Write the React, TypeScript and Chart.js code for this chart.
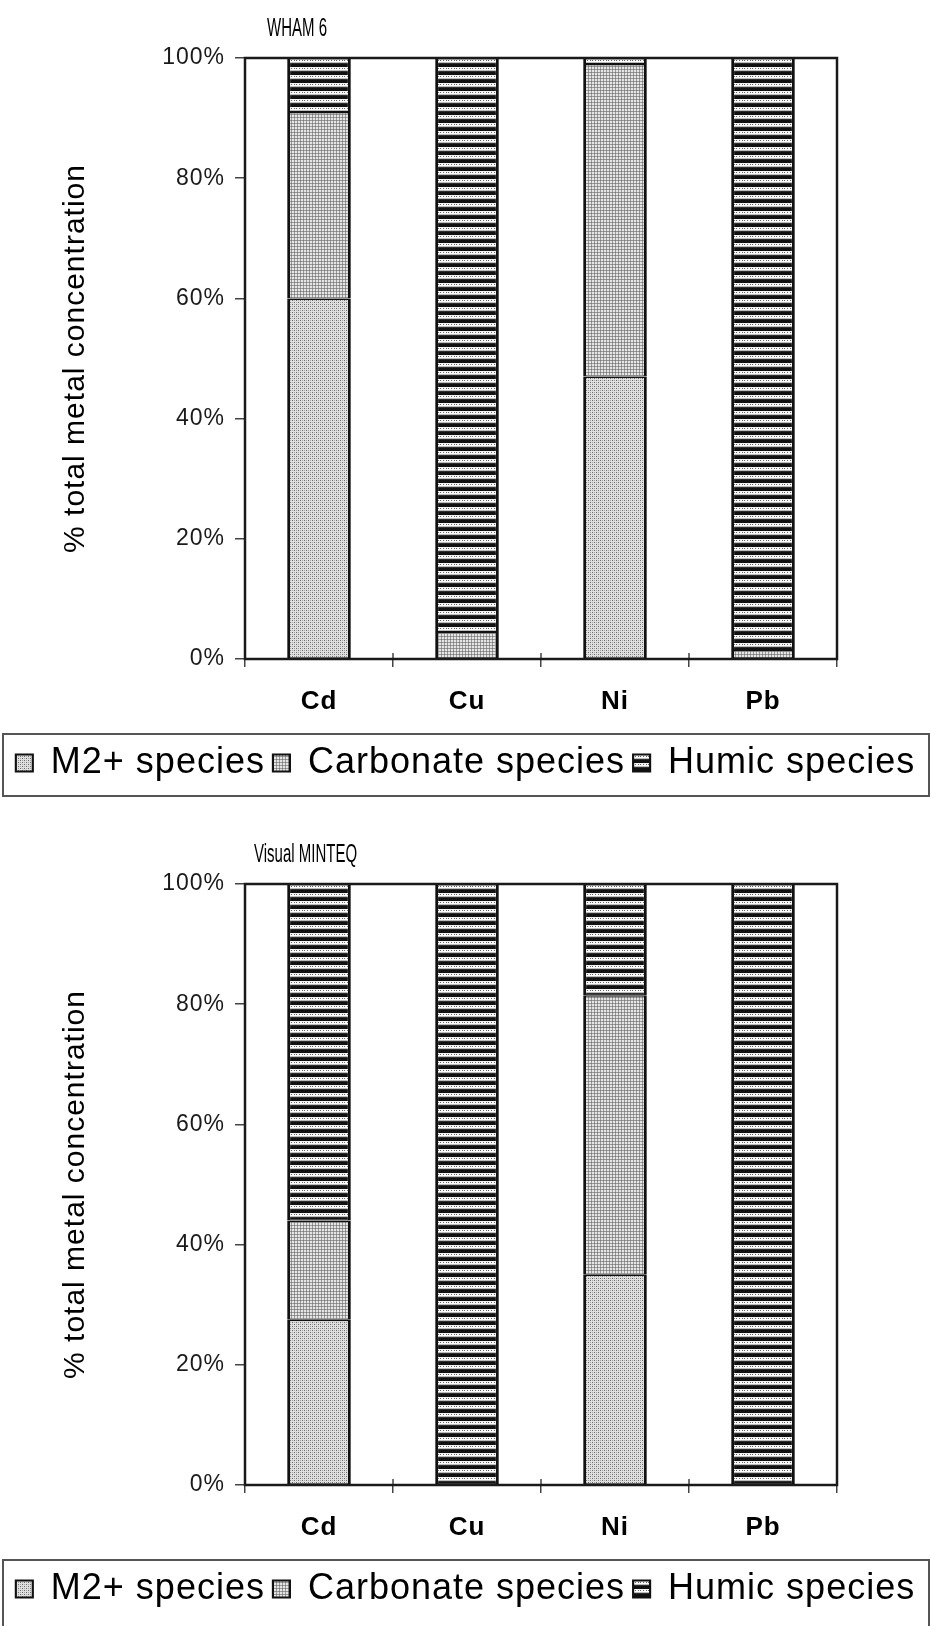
import React, { useEffect, useRef } from 'react';
import { Chart, registerables } from 'chart.js';

Chart.register(...registerables);

// ---------- data ----------
const categories = ['Cd', 'Cu', 'Ni', 'Pb'];
const seriesNames = ['M2+ species', 'Carbonate species', 'Humic species'];

const whamM2 = [60, 0, 47, 0];
const whamCarbonate = [31, 4.5, 52, 1.5];
const whamHumic = [9, 95.5, 1, 98.5];

const minteqM2 = [27.5, 0, 35, 0];
const minteqCarbonate = [16.5, 0, 46.5, 0];
const minteqHumic = [56, 100, 18.5, 100];

const yTicks = [0, 20, 40, 60, 80, 100];
const yAxisTitle = '% total metal concentration';
const panelTitles = ['WHAM 6', 'Visual MINTEQ'];

// ---------- styling helpers ----------
const FAMILY = "'Liberation Sans', Arial, Helvetica, sans-serif";

function makePattern(kind: string): CanvasPattern | string {
  const c = document.createElement('canvas');
  const ctx = c.getContext('2d');
  if (!ctx) return '#ccc';
  const px = (x: number, y: number, col: string) => {
    ctx.fillStyle = col;
    ctx.fillRect(x, y, 1, 1);
  };
  if (kind === 'm2') {
    c.width = 4; c.height = 4;
    ctx.fillStyle = '#e0e0e0';
    ctx.fillRect(0, 0, 4, 4);
    px(0, 0, '#6a6a6a');
    px(2, 2, '#6a6a6a');
    px(2, 0, '#a4a4a4');
    px(0, 2, '#a4a4a4');
  } else if (kind === 'carb') {
    c.width = 3; c.height = 3;
    ctx.fillStyle = '#e4e4e4';
    ctx.fillRect(0, 0, 3, 3);
    px(0, 0, '#747474');
    px(1, 0, '#9c9c9c');
    px(2, 0, '#9c9c9c');
    px(0, 1, '#9c9c9c');
    px(0, 2, '#9c9c9c');
  } else {
    c.width = 8; c.height = 8;
    const rows = ['#111111', '#111111', '#111111', '#f4f4f4', null, '#ffffff', '#bcbcbc', '#2e2e2e'];
    rows.forEach((col, y) => {
      if (col) {
        ctx.fillStyle = col;
        ctx.fillRect(0, y, 8, 1);
      } else {
        for (let x = 0; x < 8; x++) px(x, y, x % 3 === 0 ? '#6a6a6a' : '#f4f4f4');
      }
    });
  }
  return ctx.createPattern(c, 'repeat') || '#ccc';
}

// ---------- plugins ----------
const spacingPlugin = {
  id: 'letterSpacing',
  beforeUpdate(chart: any) {
    (chart.ctx as any).letterSpacing = '1px';
  },
  beforeDraw(chart: any) {
    (chart.ctx as any).letterSpacing = '1px';
  },
};

const framePlugin = {
  id: 'plotFrame',
  afterDraw(chart: any) {
    const { ctx, chartArea: a } = chart;
    const xs = chart.scales.x;
    ctx.save();
    // category-boundary tick marks crossing into the plot
    ctx.strokeStyle = '#444';
    ctx.lineWidth = 1.5;
    for (let i = 0; i <= categories.length; i++) {
      const x = xs.getPixelForValue(i - 0.5);
      ctx.beginPath();
      ctx.moveTo(x, a.bottom);
      ctx.lineTo(x, a.bottom - 6);
      ctx.stroke();
    }
    ctx.strokeStyle = '#1a1a1a';
    ctx.lineWidth = 2.5;
    ctx.strokeRect(a.left, a.top, a.right - a.left, a.bottom - a.top);
    ctx.restore();
  },
};

const panelTitlePlugin = {
  id: 'panelTitle',
  afterDraw(chart: any, _args: any, opts: any) {
    const { ctx, chartArea: a } = chart;
    ctx.save();
    (ctx as any).letterSpacing = '0px';
    ctx.font = "25px 'Liberation Sans', Arial, sans-serif";
    ctx.fillStyle = '#000';
    ctx.textBaseline = 'middle';
    ctx.textAlign = 'left';
    ctx.translate(a.left + opts.dx, a.top - opts.dy);
    ctx.scale(0.6, 1);
    ctx.fillText(opts.text, 0, 0);
    ctx.restore();
  },
};

const legendBoxPlugin = {
  id: 'legendBox',
  afterDraw(chart: any, _args: any, opts: any) {
    const { ctx } = chart;
    const l = chart.legend;
    if (!l) return;
    ctx.save();
    ctx.strokeStyle = '#555';
    ctx.lineWidth = 2;
    const top = l.top - opts.dTop;
    const bottom = l.bottom + opts.dBottom;
    ctx.strokeRect(opts.left, top, chart.width - opts.left - opts.right, bottom - top);
    ctx.restore();
  },
};

// ---------- chart panel ----------
type PanelProps = {
  top: number;
  title: string;
  titleDx: number;
  m2: number[];
  carb: number[];
  humic: number[];
  boxBottom: number;
};

function Panel({ top, title, titleDx, m2, carb, humic, boxBottom }: PanelProps) {
  const ref = useRef<HTMLCanvasElement | null>(null);

  useEffect(() => {
    if (!ref.current) return;
    const fills = [makePattern('m2'), makePattern('carb'), makePattern('humic')];
    const values = [m2, carb, humic];
    const chart = new Chart(ref.current, {
      type: 'bar',
      data: {
        labels: categories,
        datasets: seriesNames.map((name, i) => ({
          label: name,
          data: values[i],
          backgroundColor: fills[i] as any,
          borderColor: '#111',
          borderWidth: { left: 3, right: 3, top: 1.5, bottom: 1 } as any,
          borderSkipped: false as any,
          barPercentage: 0.43,
          categoryPercentage: 1,
          yAxisID: 'y',
        })),
      },
      options: {
        animation: false,
        responsive: true,
        maintainAspectRatio: false,
        layout: { padding: { top: 58, left: 0, right: 0, bottom: 34 } },
        plugins: {
          legend: {
            position: 'bottom',
            labels: {
              font: { family: FAMILY, size: 36 },
              color: '#000',
              boxWidth: 17,
              boxHeight: 17,
              padding: 8,
            },
          },
          tooltip: { enabled: false },
          title: { display: false },
          panelTitle: { text: title, dx: titleDx, dy: 29 },
          legendBox: { left: 3, right: 2, dTop: 3, dBottom: boxBottom },
        } as any,
        scales: {
          x: {
            stacked: true,
            grid: { drawOnChartArea: false, offset: true, tickLength: 8, color: '#444', lineWidth: 1.5 },
            border: { display: false },
            ticks: {
              font: { family: FAMILY, size: 26, weight: 'bold' },
              color: '#000',
              padding: 19,
            },
            afterFit: (s: any) => {
              s.height = 78;
            },
          },
          y: {
            stacked: true,
            min: 0,
            max: 100,
            afterBuildTicks: (s: any) => {
              s.ticks = yTicks.map((v) => ({ value: v }));
            },
            ticks: {
              callback: (v: any) => v + '%',
              font: { family: FAMILY, size: 23 },
              color: '#1a1a1a',
              padding: 10,
            },
            grid: { drawOnChartArea: false, tickLength: 10, color: '#444', lineWidth: 1.5 },
            border: { display: false },
            title: {
              display: true,
              text: yAxisTitle,
              font: { family: FAMILY, size: 30 },
              color: '#000',
              padding: { top: 58, bottom: 0 },
            },
            afterFit: (s: any) => {
              s.width = 245;
            },
          },
          yR: {
            type: 'linear',
            axis: 'y',
            position: 'right',
            display: true,
            grid: { display: false },
            ticks: { display: false },
            border: { display: false },
            afterFit: (s: any) => {
              s.width = 94;
            },
          },
        } as any,
      },
      plugins: [spacingPlugin, framePlugin, panelTitlePlugin, legendBoxPlugin],
    } as any);
    return () => chart.destroy();
  }, []);

  return (
    <div style={{ position: 'absolute', left: 0, top, width: 931, height: 825 }}>
      <canvas ref={ref} />
    </div>
  );
}

export default function App() {
  return (
    <div
      style={{
        position: 'absolute',
        left: 0,
        top: 0,
        width: 931,
        height: 1626,
        overflow: 'hidden',
        background: '#ffffff',
      }}
    >
      <Panel top={0} title={panelTitles[0]} titleDx={22} m2={whamM2} carb={whamCarbonate} humic={whamHumic} boxBottom={5} />
      <Panel top={826} title={panelTitles[1]} titleDx={9} m2={minteqM2} carb={minteqCarbonate} humic={minteqHumic} boxBottom={120} />
    </div>
  );
}
